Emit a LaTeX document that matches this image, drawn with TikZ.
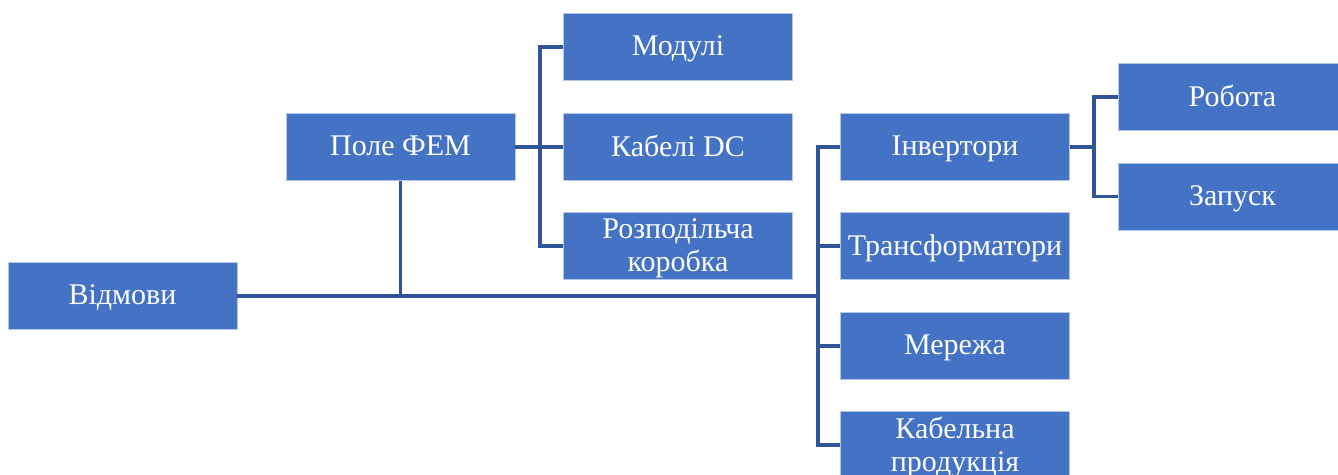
\documentclass[tikz,border=0pt]{standalone}
\usepackage{fontspec}
\setmainfont{Liberation Serif}
\usepackage{tikz}
\definecolor{boxfill}{RGB}{68,114,196}
\definecolor{boxedge}{RGB}{180,199,231}
\definecolor{linkblue}{RGB}{47,85,151}

\begin{document}
\begin{tikzpicture}[x=0.5pt, y=-0.5pt,
    item/.style={fill=boxfill, draw=boxedge, line width=0.4pt, text=white,
      minimum width=114.5pt, minimum height=33.5pt, inner sep=0pt,
      text depth=1pt, align=center, font=\fontsize{15}{16.5}\selectfont},
    link/.style={draw=linkblue, line width=1.6pt}]

  \useasboundingbox (0,0) rectangle (1338,475);

  \node[item] (vidmovy) at (122.5,296) {Відмови};
  \node[item] (pole) at (400.5,147) {Поле ФЕМ};
  \node[item] (moduli) at (678,47) {Модулі};
  \node[item] (kabeli) at (678,147) {Кабелі DC};
  \node[item] (korobka) at (678,246) {Розподільча\\коробка};
  \node[item] (invertory) at (955,147) {Інвертори};
  \node[item] (transf) at (955,246) {Трансформатори};
  \node[item] (merezha) at (955,346) {Мережа};
  \node[item] (kabprod) at (955,445) {Кабельна\\продукція};
  \node[item] (robota) at (1232.5,97) {Робота};
  \node[item] (zapusk) at (1232.5,196.5) {Запуск};

  \coordinate (mainfork) at (818,296);
  \coordinate (polefork) at (540,147);
  \coordinate (invfork) at (1094,147);

  \draw[link] (vidmovy.east) -- (mainfork);
  \draw[link] (pole.south) -- (pole.south |- vidmovy.east);
  \foreach \n in {invertory, transf, merezha, kabprod}
    \draw[link] (mainfork) |- (\n.west);

  \draw[link] (pole.east) -- (polefork);
  \foreach \n in {moduli, kabeli, korobka}
    \draw[link] (polefork) |- (\n.west);

  \draw[link] (invertory.east) -- (invfork);
  \foreach \n in {robota, zapusk}
    \draw[link] (invfork) |- (\n.west);

\end{tikzpicture}
\end{document}
